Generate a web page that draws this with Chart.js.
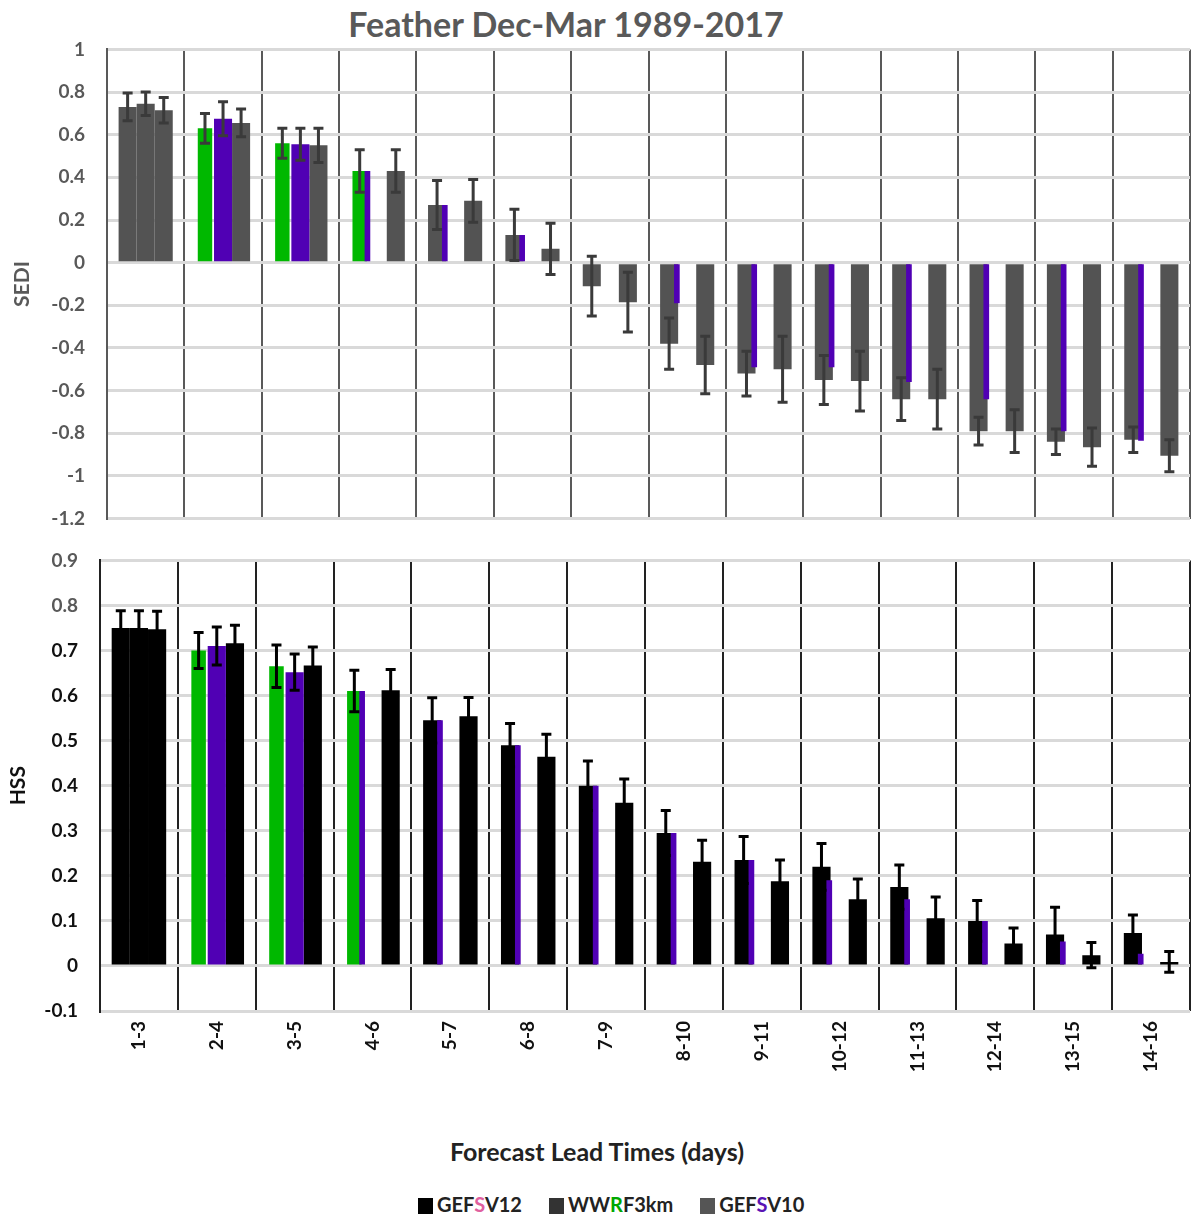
<!DOCTYPE html>
<html>
<head>
<meta charset="utf-8">
<script src="https://cdn.jsdelivr.net/npm/chart.js@4.4.1/dist/chart.umd.min.js"></script>
<style>
  body { margin: 0; background: #fff; width: 1191px; height: 1218px; position: relative; overflow: hidden; font-family: Lato, "Open Sans", sans-serif; }
  canvas { position: absolute; left: 0; }
  #title { position: absolute; left: 0; top: 3px; width: 1132px; text-align: center; font-size: 34px; font-weight: bold; color: #595959; }
  #xtitle { position: absolute; left: 0; top: 1136px; width: 1194px; text-align: center; font-size: 25px; font-weight: bold; color: #222; }
  #legend { position: absolute; left: 418px; top: 1192px; display: flex; gap: 27px; font-size: 20px; font-weight: bold; color: #222; }
  #legend span.box { display: inline-block; width: 15px; height: 16px; margin-right: 4px; vertical-align: -2px; }
</style>
</head>
<body>
<div id="title">Feather Dec-Mar 1989-2017</div>
<canvas id="sedi" width="1191" height="536" style="top:16px"></canvas>
<canvas id="hss" width="1191" height="573" style="top:527px"></canvas>
<div id="xtitle">Forecast Lead Times (days)</div>
<div id="legend">
  <div><span class="box" style="background:#000"></span>GEF<span style="color:#e0609f">S</span>V12</div>
  <div><span class="box" style="background:#333"></span>WW<span style="color:#00a800">R</span>F3km</div>
  <div><span class="box" style="background:#555"></span>GEF<span style="color:#5a14b4">S</span>V10</div>
</div>
<script>
const leadTimes = ['1-3','2-4','3-5','4-6','5-7','6-8','7-9','8-10','9-11','10-12','11-13','12-14','13-15','14-16']

// SEDI (top panel)
const sediWwrf      = [null, 0.63, 0.56, 0.43, null, null, null, null, null, null, null, null, null, null]
const sediWwrfErr   = [null, 0.07, 0.07, 0.10, null, null, null, null, null, null, null, null, null, null]
const sediLeft      = [0.73, null, null, null, 0.27, 0.13, -0.11, -0.38, -0.52, -0.55, -0.64, -0.79, -0.84, -0.83]
const sediLeftErr   = [0.065, null, null, null, 0.115, 0.12, 0.14, 0.12, 0.105, 0.115, 0.10, 0.065, 0.06, 0.06]
const sediGefsv10   = [0.745, 0.675, 0.555, 0.43, 0.27, 0.13, null, -0.19, -0.49, -0.49, -0.56, -0.64, -0.79, -0.835]
const sediGefsv10Err= [0.055, 0.08, 0.075, null, null, null, null, null, null, null, null, null, null, null]
const sediGefsv12   = [0.715, 0.655, 0.55, 0.43, 0.29, 0.065, -0.185, -0.48, -0.50, -0.555, -0.64, -0.79, -0.865, -0.905]
const sediGefsv12Err= [0.06, 0.065, 0.08, 0.10, 0.10, 0.12, 0.14, 0.135, 0.155, 0.14, 0.14, 0.10, 0.09, 0.075]

// HSS (bottom panel)
const hssWwrf       = [null, 0.70, 0.665, 0.61, null, null, null, null, null, null, null, null, null, null]
const hssWwrfErr    = [null, 0.04, 0.047, 0.046, null, null, null, null, null, null, null, null, null, null]
const hssLeft       = [0.75, null, null, null, 0.545, 0.49, 0.40, 0.295, 0.235, 0.22, 0.175, 0.10, 0.07, 0.073]
const hssLeftErr    = [0.038, null, null, null, 0.05, 0.048, 0.055, 0.05, 0.052, 0.052, 0.049, 0.045, 0.06, 0.04]
const hssGefsv10    = [0.75, 0.71, 0.652, 0.61, 0.545, 0.49, 0.40, 0.295, 0.235, 0.19, 0.148, 0.10, 0.054, 0.027]
const hssGefsv10Err = [0.038, 0.042, 0.04, null, null, null, null, null, null, null, null, null, null, null]
const hssGefsv12    = [0.747, 0.716, 0.667, 0.612, 0.554, 0.464, 0.362, 0.231, 0.188, 0.148, 0.106, 0.05, 0.024, 0.009]
const hssGefsv12Err = [0.04, 0.04, 0.041, 0.046, 0.042, 0.05, 0.053, 0.048, 0.047, 0.045, 0.047, 0.034, 0.028, 0.023]

const GREEN = '#00b800'
const PURPLE = '#5000b4'
const wideUntil = 3 // purple bars are full width only for the first groups

// draws the error whiskers on top of the bars
const errorBars = {
    id: 'errorBars',
    afterDatasetsDraw(chart){
        const ctx = chart.ctx
        const yScale = chart.scales.y
        chart.data.datasets.forEach((ds, di) => {
            if(!ds.errors) return
            const meta = chart.getDatasetMeta(di)
            ctx.save()
            ctx.strokeStyle = ds.errorColor
            ctx.lineWidth = 3
            meta.data.forEach((bar, i) => {
                const v = ds.data[i], e = ds.errors[i]
                if(v == null || e == null) return
                const yHi = yScale.getPixelForValue(v + e)
                const yLo = yScale.getPixelForValue(v - e)
                ctx.beginPath()
                ctx.moveTo(bar.x, yHi); ctx.lineTo(bar.x, yLo)
                ctx.moveTo(bar.x - 5, yHi); ctx.lineTo(bar.x + 5, yHi)
                ctx.moveTo(bar.x - 5, yLo); ctx.lineTo(bar.x + 5, yLo)
                ctx.stroke()
            })
            ctx.restore()
        })
    }
}

function buildDatasets(wwrf, wwrfErr, left, leftErr, v10, v10Err, v12, v12Err, base, errColor){
    return [
        { label: 'GEFSV10 (narrow)', data: v10.map((v, i) => i >= wideUntil ? v : null), stack: 'L',
          backgroundColor: PURPLE, categoryPercentage: 0.4, barPercentage: 0.55 },
        { label: 'left', data: left, errors: leftErr, errorColor: errColor, stack: 'L',
          backgroundColor: base, categoryPercentage: 0.7, barPercentage: 1 },
        { label: 'WWRF3km', data: wwrf, errors: wwrfErr, errorColor: errColor, stack: 'L',
          backgroundColor: GREEN, categoryPercentage: 0.7, barPercentage: 0.8 },
        { label: 'GEFSV10', data: v10.map((v, i) => i < wideUntil ? v : null), errors: v10Err, errorColor: errColor, stack: 'M',
          backgroundColor: v10.map((v, i) => i === 0 ? base : PURPLE), categoryPercentage: 0.7, barPercentage: 1 },
        { label: 'GEFSV12', data: v12, errors: v12Err, errorColor: errColor, stack: 'R',
          backgroundColor: base, categoryPercentage: 0.7, barPercentage: 1 }
    ]
}

const tickFont = { family: 'Lato', size: 19, weight: 'bold' }
const axisTitleFont = { family: 'Lato', size: 21, weight: 'bold' }

new Chart(document.getElementById('sedi').getContext('2d'), {
    type: 'bar',
    data: {
        labels: leadTimes,
        datasets: buildDatasets(sediWwrf, sediWwrfErr, sediLeft, sediLeftErr, sediGefsv10, sediGefsv10Err, sediGefsv12, sediGefsv12Err, '#535353', '#3a3a3a')
    },
    options: {
        responsive: false,
        animation: false,
        layout: { padding: { top: 0, right: 1, bottom: 0, left: 0 } },
        plugins: { legend: { display: false }, tooltip: { enabled: false } },
        scales: {
            x: {
                ticks: { display: false },
                grid: { color: '#595959', lineWidth: 2, drawTicks: false, offset: true },
                border: { display: false },
                afterFit: s => { s.height = 0 }
            },
            y: {
                min: -1.2, max: 1, stacked: false,
                ticks: { stepSize: 0.2, padding: 22, color: '#595959', font: tickFont,
                         callback: v => String(Math.round(v * 10) / 10) },
                grid: { color: '#d9d9d9', lineWidth: 3, drawTicks: false },
                border: { color: '#595959', width: 2 },
                title: { display: true, text: 'SEDI', color: '#595959', font: axisTitleFont, padding: { top: 10, bottom: 0 } },
                afterFit: s => { s.width = 107 }
            }
        }
    },
    plugins: [errorBars]
})

new Chart(document.getElementById('hss').getContext('2d'), {
    type: 'bar',
    data: {
        labels: leadTimes,
        datasets: buildDatasets(hssWwrf, hssWwrfErr, hssLeft, hssLeftErr, hssGefsv10, hssGefsv10Err, hssGefsv12, hssGefsv12Err, '#000000', '#000000')
    },
    options: {
        responsive: false,
        animation: false,
        layout: { padding: { top: 0, right: 1, bottom: 0, left: 0 } },
        plugins: { legend: { display: false }, tooltip: { enabled: false } },
        scales: {
            x: {
                ticks: { color: '#111', font: tickFont, padding: 10, minRotation: 90, maxRotation: 90, autoSkip: false },
                grid: { color: '#222', lineWidth: 2, drawTicks: false, offset: true },
                border: { display: false },
                afterFit: s => { s.height = 89 }
            },
            y: {
                min: -0.1, max: 0.9, stacked: false,
                ticks: { stepSize: 0.1, padding: 22, font: tickFont,
                         color: c => c.tick && c.tick.value > 0.75 ? '#595959' : '#111',
                         callback: v => String(Math.round(v * 10) / 10) },
                grid: { color: '#d9d9d9', lineWidth: 3, drawTicks: false },
                border: { color: '#222', width: 2 },
                title: { display: true, text: 'HSS', color: '#111', font: axisTitleFont, padding: { top: 6, bottom: 0 } },
                afterFit: s => { s.width = 100 }
            }
        }
    },
    plugins: [errorBars]
})
</script>
</body>
</html>
